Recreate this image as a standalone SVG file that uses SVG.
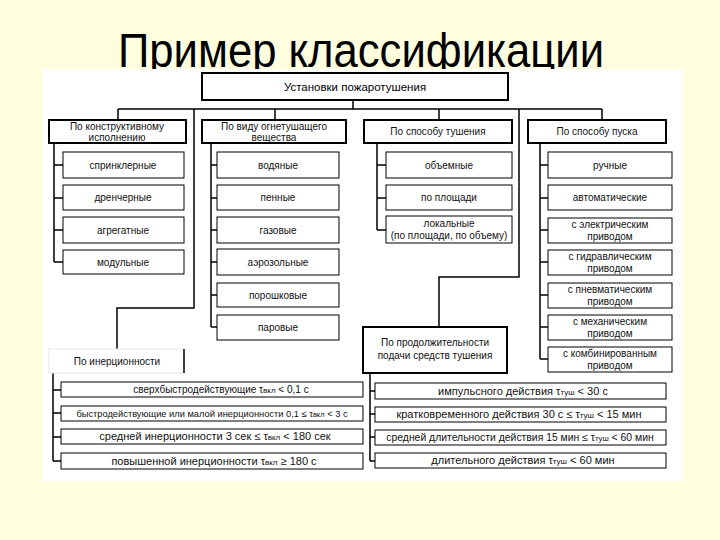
<svg xmlns="http://www.w3.org/2000/svg" width="720" height="540" viewBox="0 0 720 540">
<style>
.bg{fill:#FFFFE0}
.b1{fill:#fff;stroke:#000;stroke-width:2}
.b2{fill:#fff;stroke:#000;stroke-width:1}
.t{font-family:"Liberation Sans",Arial,sans-serif;font-size:10px;fill:#111;text-anchor:middle}
.tb{font-family:"Liberation Sans",Arial,sans-serif;font-size:11.5px;fill:#000;text-anchor:middle}
.s{font-size:8px}
.c{fill:none;stroke:#000;stroke-width:1.5}
</style>
<rect class="bg" x="0" y="0" width="720" height="540"/>
<text x="361" y="67" font-family="'Liberation Sans',Arial,sans-serif" font-size="48" fill="#000" text-anchor="middle" textLength="486" lengthAdjust="spacingAndGlyphs">Пример классификации</text>
<rect x="42" y="69" width="641" height="412" fill="#fff"/>

<g id="connectors">
<path class="c" d="M353,100 V109 M118,109 H602 M118,109 V120 M275,109 V120 M439,109 V120 M602,109 V120"/>
<path class="c" d="M194,109 V308 H117 V349"/>
<path class="c" d="M519,109 V277 H439 V327"/>
<path class="c" d="M54,143 V262 M54,165 H63 M54,198 H63 M54,230 H63 M54,262 H63"/>
<path class="c" d="M211,143 V327 M211,165 H217 M211,198 H217 M211,230 H217 M211,262 H217 M211,295 H217 M211,327 H217"/>
<path class="c" d="M377,143 V230 M377,165 H386 M377,198 H386 M377,230 H386"/>
<path class="c" d="M540,143 V359 M540,165 H548 M540,198 H548 M540,230 H548 M540,262 H548 M540,295 H548 M540,327 H548 M540,359 H548"/>
<path class="c" d="M53,373 V461 M53,390 H61 M53,413 H61 M53,437 H61 M53,461 H61"/>
<path class="c" d="M370,373 V461 M370,391 H375 M370,414 H375 M370,437 H375 M370,461 H375"/>
</g>

<g id="root"><rect class="b1" x="202" y="73" width="306" height="27"/><text class="tb" x="355" y="91">Установки пожаротушения</text></g>

<g id="k1"><rect class="b1" x="49" y="120" width="137" height="23"/><text class="t" x="117" y="130">По конструктивному</text><text class="t" x="117" y="141">исполнению</text></g>
<g id="k2"><rect class="b1" x="202" y="120" width="144" height="23"/><text class="t" x="274" y="130">По виду огнетушащего</text><text class="t" x="274" y="141">вещества</text></g>
<g id="k3"><rect class="b1" x="364" y="120" width="148" height="23"/><text class="t" x="438" y="135">По способу тушения</text></g>
<g id="k4"><rect class="b1" x="528" y="120" width="138" height="23"/><text class="t" x="597" y="135">По способу пуска</text></g>

<g id="k1a"><rect class="b2" x="63" y="152" width="121" height="26"/><text class="t" x="123" y="169">спринклерные</text></g>
<g id="k1b"><rect class="b2" x="63" y="185" width="121" height="25"/><text class="t" x="123" y="201">дренчерные</text></g>
<g id="k1c"><rect class="b2" x="63" y="217" width="121" height="26"/><text class="t" x="123" y="234">агрегатные</text></g>
<g id="k1d"><rect class="b2" x="63" y="250" width="121" height="24"/><text class="t" x="123" y="266">модульные</text></g>

<g id="k2a"><rect class="b2" x="217" y="152" width="122" height="26"/><text class="t" x="278" y="169">водяные</text></g>
<g id="k2b"><rect class="b2" x="217" y="185" width="122" height="25"/><text class="t" x="278" y="201">пенные</text></g>
<g id="k2c"><rect class="b2" x="217" y="217" width="122" height="26"/><text class="t" x="278" y="234">газовые</text></g>
<g id="k2d"><rect class="b2" x="217" y="249" width="122" height="26"/><text class="t" x="278" y="266">аэрозольные</text></g>
<g id="k2e"><rect class="b2" x="217" y="283" width="122" height="24"/><text class="t" x="278" y="299">порошковые</text></g>
<g id="k2f"><rect class="b2" x="217" y="315" width="122" height="25"/><text class="t" x="278" y="331">паровые</text></g>

<g id="k3a"><rect class="b2" x="386" y="152" width="126" height="26"/><text class="t" x="449" y="169">объемные</text></g>
<g id="k3b"><rect class="b2" x="386" y="185" width="126" height="25"/><text class="t" x="449" y="201">по площади</text></g>
<g id="k3c"><rect class="b2" x="386" y="216" width="126" height="27"/><text class="t" x="449" y="227">локальные</text><text class="t" x="449" y="239">(по площади, по объему)</text></g>

<g id="k4a"><rect class="b2" x="548" y="152" width="124" height="26"/><text class="t" x="610" y="169">ручные</text></g>
<g id="k4b"><rect class="b2" x="548" y="185" width="124" height="25"/><text class="t" x="610" y="201">автоматические</text></g>
<g id="k4c"><rect class="b2" x="548" y="218" width="124" height="25"/><text class="t" x="610" y="228">с электрическим</text><text class="t" x="610" y="240">приводом</text></g>
<g id="k4d"><rect class="b2" x="548" y="250" width="124" height="25"/><text class="t" x="610" y="260">с гидравлическим</text><text class="t" x="610" y="272">приводом</text></g>
<g id="k4e"><rect class="b2" x="548" y="283" width="124" height="25"/><text class="t" x="610" y="293">с пневматическим</text><text class="t" x="610" y="305">приводом</text></g>
<g id="k4f"><rect class="b2" x="548" y="315" width="124" height="25"/><text class="t" x="610" y="325">с механическим</text><text class="t" x="610" y="337">приводом</text></g>
<g id="k4g"><rect class="b2" x="548" y="347" width="124" height="25"/><text class="t" x="610" y="357">с комбинированным</text><text class="t" x="610" y="369">приводом</text></g>

<g id="k5"><rect x="49" y="349" width="135" height="24" fill="#fff" stroke="#e6e6e6" stroke-width="1"/><path d="M184,349 V373" stroke="#000" stroke-width="1.5"/><text class="t" x="117" y="365">По инерционности</text></g>
<g id="k5a"><rect class="b2" x="61" y="382" width="302" height="15"/><text class="t" x="221" y="393">сверхбыстродействующие τ<tspan class="s">вкл</tspan> &lt; 0,1 с</text></g>
<g id="k5b"><rect class="b2" x="61" y="406" width="302" height="15"/><text class="t" x="212" y="417" style="font-size:9.3px">быстродействующие или малой инерционности 0,1 ≤ τ<tspan style="font-size:7.5px">вкл</tspan> &lt; 3 с</text></g>
<g id="k5c"><rect class="b2" x="61" y="429" width="302" height="15"/><text class="t" x="215" y="440" style="font-size:11px">средней инерционности 3 сек ≤ τ<tspan class="s">вкл</tspan> &lt; 180 сек</text></g>
<g id="k5d"><rect class="b2" x="61" y="453" width="302" height="16"/><text class="t" x="214" y="465" style="font-size:11px">повышенной инерционности τ<tspan class="s">вкл</tspan> ≥ 180 с</text></g>

<g id="k6"><rect class="b1" x="363" y="327" width="144" height="46"/><text class="t" x="435" y="346">По продолжительности</text><text class="t" x="435" y="359">подачи средств тушения</text></g>
<g id="k6a"><rect class="b2" x="375" y="383" width="291" height="16"/><text class="t" x="523" y="395" style="font-size:11px">импульсного действия τ<tspan class="s">туш</tspan> &lt; 30 с</text></g>
<g id="k6b"><rect class="b2" x="375" y="407" width="291" height="15"/><text class="t" x="519" y="418" style="font-size:11px">кратковременного действия 30 с ≤ τ<tspan class="s">туш</tspan> &lt; 15 мин</text></g>
<g id="k6c"><rect class="b2" x="375" y="430" width="291" height="15"/><text class="t" x="520" y="441" style="font-size:10.4px">средней длительности действия 15 мин ≤ τ<tspan style="font-size:7.8px">туш</tspan> &lt; 60 мин</text></g>
<g id="k6d"><rect class="b2" x="375" y="453" width="291" height="15"/><text class="t" x="523" y="464" style="font-size:11px">длительного действия τ<tspan class="s">туш</tspan> &lt; 60 мин</text></g>
</svg>
